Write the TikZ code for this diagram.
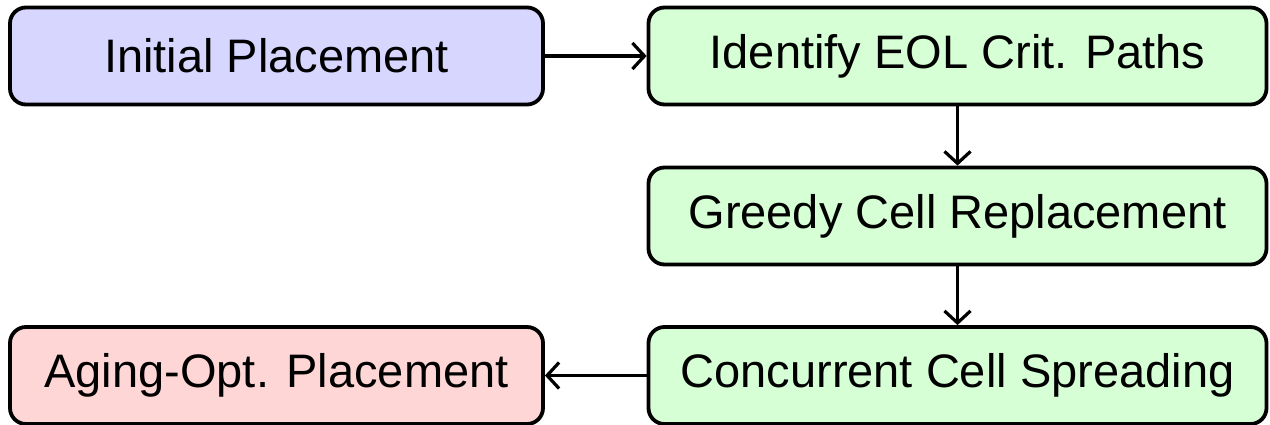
\documentclass[tikz,border=0pt]{standalone}
\usepackage{fontspec}
\setmainfont{Liberation Sans}
\usetikzlibrary{arrows.meta}
\definecolor{initfill}{RGB}{214,214,255}
\definecolor{stepfill}{RGB}{214,255,214}
\definecolor{donefill}{RGB}{255,214,214}
\begin{document}
\begin{tikzpicture}[x=1pt,y=-1pt,
  flowbox/.style={draw=black, line width=3.8pt, rounded corners=16pt,
    minimum height=97pt, inner sep=0pt, font=\fontsize{47}{56}\selectfont},
  leftbox/.style={flowbox, minimum width=533pt},
  rightbox/.style={flowbox, minimum width=618pt},
  flowarrow/.style={line width=3.2pt, -{Straight Barb[length=12pt,width=26pt,line width=3.2pt]}}]
  \useasboundingbox (0,0) rectangle (1270,425);
  \node[leftbox, fill=initfill] (init) at (276.5,56) {Initial Placement};
  \node[rightbox, fill=stepfill] (ident) at (957.5,56) {Identify EOL Crit. Paths};
  \node[rightbox, fill=stepfill] (greedy) at (957.5,216) {Greedy Cell Replacement};
  \node[rightbox, fill=stepfill] (spread) at (957.5,375.5) {Concurrent Cell Spreading};
  \node[leftbox, fill=donefill] (aging) at (276.5,375.5) {Aging-Opt. Placement};
  \draw[flowarrow] (init) -- (ident);
  \draw[flowarrow] (ident) -- (greedy);
  \draw[flowarrow] (greedy) -- (spread);
  \draw[flowarrow] (spread) -- (aging);
\end{tikzpicture}
\end{document}
